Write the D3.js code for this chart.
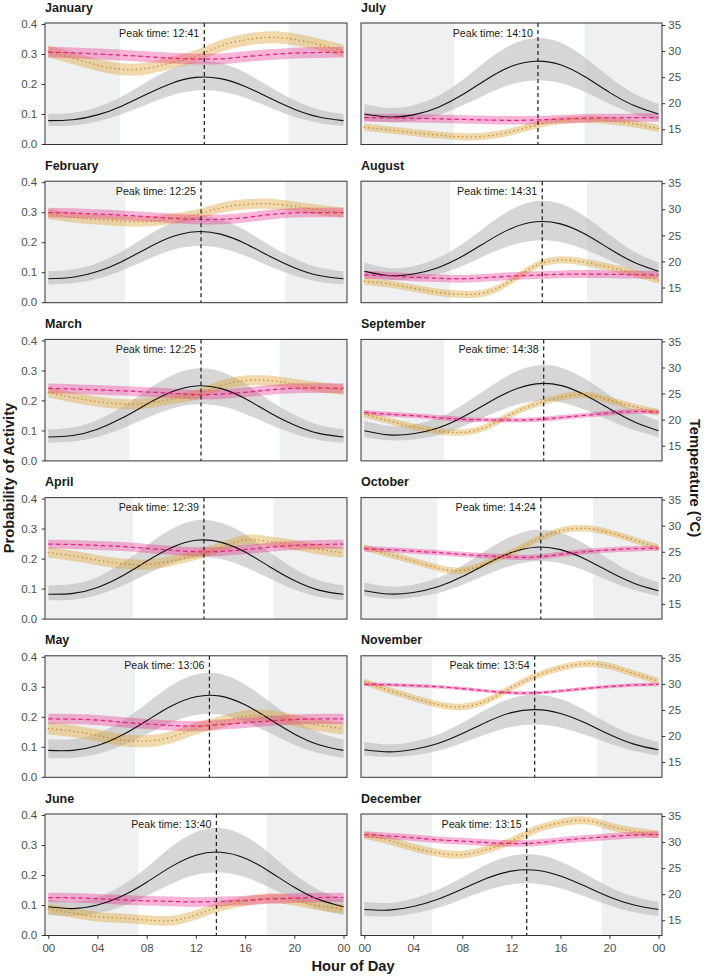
<!DOCTYPE html>
<html>
<head>
<meta charset="utf-8">
<script src="https://cdn.jsdelivr.net/npm/d3@7"></script>
<style>
  body { margin: 0; background: #fff; }
  svg { display: block; }
  text { font-family: "Liberation Sans", Arial, sans-serif; }
</style>
</head>
<body>
<div id="chart"></div>
<script>
// --- data ---
const months = ["January", "February", "March", "April", "May", "June",
  "July", "August", "September", "October", "November", "December"];
const peakLabels = ["12:41", "12:25", "12:25", "12:39", "13:06", "13:40",
  "14:10", "14:31", "14:38", "14:24", "13:54", "13:15"];
// night shading (hour of sunrise / sunset)
const sunrise = [5.83, 6.25, 6.57, 6.87, 7.05, 7.32, 7.32, 7.0, 6.5, 5.97, 5.53, 5.53];
const sunset = [19.53, 19.26, 18.8, 18.3, 17.9, 17.77, 17.98, 18.17, 18.45, 18.66, 18.98, 19.37];

const hours = [0, 2, 4, 6, 8, 10, 12, 14, 16, 18, 20, 22, 24];
const hourTicks = [0, 4, 8, 12, 16, 20, 24];
const hourTickLabels = ["00", "04", "08", "12", "16", "20", "00"];
const probTicks = [0, 0.1, 0.2, 0.3, 0.4];
const tempTicks = [15, 20, 25, 30, 35];

const activityMean = [
  [0.078, 0.081, 0.097, 0.127, 0.166, 0.202, 0.222, 0.218, 0.192, 0.153, 0.116, 0.090, 0.078],
  [0.078, 0.083, 0.102, 0.136, 0.179, 0.217, 0.235, 0.227, 0.196, 0.153, 0.115, 0.089, 0.078],
  [0.078, 0.083, 0.104, 0.141, 0.187, 0.228, 0.248, 0.240, 0.206, 0.159, 0.118, 0.090, 0.078],
  [0.081, 0.084, 0.104, 0.142, 0.191, 0.236, 0.261, 0.255, 0.222, 0.173, 0.127, 0.095, 0.081],
  [0.088, 0.088, 0.104, 0.139, 0.187, 0.236, 0.267, 0.269, 0.240, 0.192, 0.143, 0.107, 0.088],
  [0.094, 0.088, 0.100, 0.130, 0.176, 0.228, 0.266, 0.276, 0.256, 0.211, 0.159, 0.118, 0.094],
  [0.100, 0.090, 0.097, 0.122, 0.164, 0.216, 0.259, 0.276, 0.264, 0.224, 0.172, 0.128, 0.100],
  [0.103, 0.089, 0.094, 0.115, 0.153, 0.202, 0.246, 0.268, 0.261, 0.227, 0.178, 0.133, 0.103],
  [0.099, 0.085, 0.089, 0.108, 0.144, 0.190, 0.232, 0.255, 0.250, 0.218, 0.172, 0.129, 0.099],
  [0.093, 0.082, 0.087, 0.106, 0.140, 0.183, 0.220, 0.238, 0.230, 0.199, 0.156, 0.118, 0.093],
  [0.090, 0.083, 0.091, 0.111, 0.144, 0.183, 0.214, 0.224, 0.211, 0.180, 0.141, 0.109, 0.090],
  [0.085, 0.083, 0.095, 0.119, 0.153, 0.189, 0.213, 0.216, 0.197, 0.163, 0.127, 0.100, 0.085]
];
const activityLower = [
  [0.060, 0.062, 0.075, 0.100, 0.132, 0.162, 0.178, 0.175, 0.154, 0.122, 0.091, 0.070, 0.060],
  [0.059, 0.063, 0.078, 0.106, 0.141, 0.173, 0.187, 0.181, 0.155, 0.120, 0.089, 0.068, 0.059],
  [0.059, 0.063, 0.078, 0.106, 0.141, 0.172, 0.187, 0.181, 0.155, 0.120, 0.089, 0.068, 0.059],
  [0.061, 0.063, 0.079, 0.109, 0.148, 0.184, 0.203, 0.199, 0.172, 0.134, 0.097, 0.072, 0.061],
  [0.063, 0.063, 0.076, 0.104, 0.142, 0.181, 0.206, 0.208, 0.184, 0.146, 0.107, 0.079, 0.063],
  [0.067, 0.063, 0.072, 0.095, 0.131, 0.171, 0.201, 0.208, 0.193, 0.158, 0.118, 0.086, 0.067],
  [0.079, 0.072, 0.077, 0.096, 0.128, 0.167, 0.199, 0.212, 0.203, 0.173, 0.134, 0.100, 0.079],
  [0.084, 0.074, 0.077, 0.093, 0.121, 0.158, 0.190, 0.206, 0.201, 0.176, 0.140, 0.106, 0.084],
  [0.077, 0.067, 0.070, 0.084, 0.112, 0.148, 0.180, 0.198, 0.194, 0.169, 0.134, 0.101, 0.077],
  [0.075, 0.066, 0.070, 0.085, 0.112, 0.147, 0.177, 0.191, 0.185, 0.160, 0.125, 0.095, 0.075],
  [0.071, 0.066, 0.072, 0.087, 0.113, 0.143, 0.166, 0.174, 0.164, 0.140, 0.111, 0.086, 0.071],
  [0.063, 0.062, 0.072, 0.091, 0.119, 0.149, 0.169, 0.171, 0.156, 0.128, 0.098, 0.076, 0.063]
];
const activityUpper = [
  [0.100, 0.104, 0.123, 0.159, 0.207, 0.250, 0.275, 0.270, 0.238, 0.191, 0.146, 0.115, 0.100],
  [0.103, 0.109, 0.131, 0.170, 0.220, 0.264, 0.285, 0.276, 0.240, 0.190, 0.146, 0.116, 0.103],
  [0.104, 0.110, 0.135, 0.179, 0.234, 0.282, 0.306, 0.296, 0.256, 0.200, 0.152, 0.118, 0.104],
  [0.111, 0.115, 0.139, 0.185, 0.244, 0.298, 0.328, 0.320, 0.281, 0.222, 0.167, 0.128, 0.111],
  [0.125, 0.125, 0.144, 0.186, 0.244, 0.304, 0.341, 0.343, 0.308, 0.250, 0.191, 0.148, 0.125],
  [0.118, 0.110, 0.126, 0.165, 0.225, 0.294, 0.343, 0.357, 0.330, 0.272, 0.203, 0.150, 0.118],
  [0.133, 0.120, 0.129, 0.160, 0.213, 0.278, 0.331, 0.353, 0.338, 0.288, 0.223, 0.168, 0.133],
  [0.132, 0.114, 0.120, 0.147, 0.194, 0.255, 0.309, 0.337, 0.328, 0.286, 0.225, 0.169, 0.132],
  [0.132, 0.115, 0.120, 0.142, 0.185, 0.239, 0.289, 0.316, 0.310, 0.272, 0.218, 0.167, 0.132],
  [0.120, 0.107, 0.113, 0.136, 0.177, 0.229, 0.274, 0.296, 0.286, 0.249, 0.197, 0.151, 0.120],
  [0.116, 0.108, 0.117, 0.141, 0.180, 0.226, 0.262, 0.274, 0.259, 0.222, 0.176, 0.139, 0.116],
  [0.110, 0.107, 0.122, 0.151, 0.192, 0.235, 0.264, 0.268, 0.245, 0.204, 0.160, 0.128, 0.110]
];

// pink dashed series
const pinkMid = [
  [0.306, 0.304, 0.300, 0.296, 0.291, 0.286, 0.283, 0.284, 0.291, 0.298, 0.303, 0.305, 0.306],
  [0.299, 0.297, 0.294, 0.290, 0.285, 0.280, 0.276, 0.276, 0.282, 0.292, 0.298, 0.299, 0.299],
  [0.240, 0.238, 0.235, 0.232, 0.228, 0.224, 0.219, 0.221, 0.227, 0.235, 0.240, 0.241, 0.240],
  [0.248, 0.247, 0.244, 0.240, 0.234, 0.228, 0.223, 0.224, 0.230, 0.238, 0.244, 0.247, 0.248],
  [0.193, 0.192, 0.189, 0.182, 0.176, 0.171, 0.169, 0.174, 0.180, 0.186, 0.191, 0.193, 0.193],
  [0.125, 0.124, 0.121, 0.117, 0.114, 0.112, 0.110, 0.112, 0.115, 0.120, 0.123, 0.125, 0.125],
  [0.088, 0.087, 0.086, 0.084, 0.082, 0.080, 0.079, 0.080, 0.083, 0.086, 0.087, 0.088, 0.088],
  [0.091, 0.088, 0.083, 0.080, 0.078, 0.082, 0.087, 0.090, 0.093, 0.094, 0.093, 0.092, 0.091],
  [0.160, 0.154, 0.149, 0.143, 0.137, 0.135, 0.134, 0.136, 0.143, 0.150, 0.158, 0.163, 0.161],
  [0.233, 0.230, 0.225, 0.220, 0.214, 0.209, 0.205, 0.205, 0.214, 0.223, 0.229, 0.233, 0.234],
  [0.308, 0.307, 0.304, 0.300, 0.294, 0.286, 0.280, 0.280, 0.286, 0.294, 0.301, 0.306, 0.308],
  [0.335, 0.330, 0.324, 0.317, 0.313, 0.308, 0.305, 0.307, 0.315, 0.322, 0.328, 0.333, 0.335]
];
const pinkSpread = [0.018, 0.016, 0.016, 0.015, 0.017, 0.016, 0.014, 0.013, 0.008, 0.009, 0.006, 0.011];

// gold dotted series
const goldMid = [
  [0.308, 0.286, 0.263, 0.249, 0.252, 0.271, 0.293, 0.327, 0.347, 0.356, 0.349, 0.332, 0.311],
  [0.294, 0.283, 0.276, 0.270, 0.269, 0.278, 0.292, 0.314, 0.326, 0.328, 0.319, 0.308, 0.299],
  [0.227, 0.210, 0.196, 0.188, 0.190, 0.204, 0.219, 0.249, 0.266, 0.266, 0.255, 0.244, 0.235],
  [0.220, 0.209, 0.195, 0.183, 0.180, 0.192, 0.212, 0.237, 0.262, 0.257, 0.246, 0.231, 0.220],
  [0.161, 0.152, 0.138, 0.122, 0.119, 0.132, 0.161, 0.182, 0.202, 0.202, 0.188, 0.172, 0.161],
  [0.087, 0.073, 0.061, 0.056, 0.050, 0.048, 0.067, 0.095, 0.112, 0.123, 0.114, 0.098, 0.087],
  [0.056, 0.047, 0.038, 0.030, 0.024, 0.027, 0.041, 0.063, 0.078, 0.082, 0.078, 0.067, 0.052],
  [0.070, 0.061, 0.047, 0.033, 0.026, 0.033, 0.072, 0.122, 0.141, 0.133, 0.117, 0.097, 0.074],
  [0.154, 0.132, 0.112, 0.098, 0.093, 0.112, 0.154, 0.188, 0.210, 0.219, 0.201, 0.179, 0.160],
  [0.237, 0.214, 0.192, 0.169, 0.160, 0.186, 0.220, 0.262, 0.293, 0.301, 0.287, 0.262, 0.237],
  [0.317, 0.288, 0.263, 0.241, 0.233, 0.254, 0.297, 0.336, 0.363, 0.377, 0.369, 0.344, 0.319],
  [0.333, 0.315, 0.291, 0.274, 0.268, 0.285, 0.313, 0.352, 0.374, 0.382, 0.363, 0.346, 0.335]
];
const goldSpread = [0.020, 0.017, 0.017, 0.017, 0.020, 0.016, 0.012, 0.012, 0.011, 0.011, 0.011, 0.013];

// --- layout ---
const width = 704, height = 977;
const colX = [[45, 347], [361, 662]];
const panelH = 121.5;
const rowTop = r => 23 + r * 158.2;
const nightFill = "#eff0f2";
const tickColor = "#4d4d4d";

let svg = d3.select("#chart").append("svg")
    .attr("width", width)
    .attr("height", height);

function styleAxis(sel) {
	sel.select(".domain").remove();
	sel.selectAll(".tick line").attr("stroke", "#333").attr("stroke-width", 1);
	sel.selectAll(".tick text").attr("fill", tickColor).style("font-size", "11.5px")
		.style("font-family", '"Liberation Sans", Arial, sans-serif');
}

months.forEach((name, i) => {
	let col = Math.floor(i / 6), row = i % 6;
	let [x0, x1] = colX[col];
	let top = rowTop(row), bottom = top + panelH;

	let x = d3.scaleLinear().domain([0, 24]).range([x0 + 3.3, x1 - 3.5]);
	let y = d3.scaleLinear().domain([0, 0.4]).range([top + 121, top + 1]);
	let idx = d3.range(hours.length);

	let clipId = "clip" + i;
	svg.append("clipPath").attr("id", clipId)
		.append("rect").attr("x", x0).attr("y", top)
		.attr("width", x1 - x0).attr("height", panelH);

	let g = svg.append("g");
	let plot = g.append("g").attr("clip-path", `url(#${clipId})`);

	// night shading
	plot.append("rect").attr("x", x0).attr("y", top)
		.attr("width", x(sunrise[i]) - x0).attr("height", panelH).attr("fill", nightFill);
	plot.append("rect").attr("x", x(sunset[i])).attr("y", top)
		.attr("width", x1 - x(sunset[i])).attr("height", panelH).attr("fill", nightFill);

	let band = (lo, hi) => d3.area()
		.x(k => x(hours[k])).y0(k => y(lo(k))).y1(k => y(hi(k)))
		.curve(d3.curveNatural);
	let line = (v) => d3.line()
		.x(k => x(hours[k])).y(k => y(v(k)))
		.curve(d3.curveNatural);

	// ribbons
	plot.append("path").datum(idx)
		.attr("d", band(k => activityLower[i][k], k => activityUpper[i][k]))
		.attr("fill", "#bdbdbd").attr("fill-opacity", 0.62);
	plot.append("path").datum(idx)
		.attr("d", band(k => goldMid[i][k] - goldSpread[i], k => goldMid[i][k] + goldSpread[i]))
		.attr("fill", "#dba53a").attr("fill-opacity", 0.42);
	plot.append("path").datum(idx)
		.attr("d", band(k => pinkMid[i][k] - pinkSpread[i], k => pinkMid[i][k] + pinkSpread[i]))
		.attr("fill", "#e7298a").attr("fill-opacity", 0.35);

	// lines
	plot.append("path").datum(idx)
		.attr("d", line(k => activityMean[i][k]))
		.attr("fill", "none").attr("stroke", "#111").attr("stroke-width", 1.1);
	plot.append("path").datum(idx)
		.attr("d", line(k => goldMid[i][k]))
		.attr("fill", "none").attr("stroke", "#c4851a").attr("stroke-width", 1.4)
		.attr("stroke-linecap", "round")
		.attr("stroke-dasharray", "0.1,4.2");
	plot.append("path").datum(idx)
		.attr("d", line(k => pinkMid[i][k]))
		.attr("fill", "none").attr("stroke", "#e5207f").attr("stroke-width", 1.25)
		.attr("stroke-dasharray", "4.5,3");

	// peak time marker
	let [hh, mm] = peakLabels[i].split(":").map(Number);
	let peak = hh + mm / 60;
	g.append("line")
		.attr("x1", x(peak)).attr("x2", x(peak))
		.attr("y1", top).attr("y2", bottom)
		.attr("stroke", "#222").attr("stroke-width", 1.25)
		.attr("stroke-dasharray", "4,3");
	g.append("text")
		.attr("x", x(peak) - 5).attr("y", top + 13.5)
		.attr("text-anchor", "end")
		.style("font-size", "10.7px").attr("fill", "#1a1a1a")
		.text("Peak time: " + peakLabels[i]);

	// panel border
	g.append("rect").attr("x", x0).attr("y", top)
		.attr("width", x1 - x0).attr("height", panelH)
		.attr("fill", "none").attr("stroke", "#333").attr("stroke-width", 1);

	// title
	g.append("text")
		.attr("x", x0).attr("y", top - 11.5)
		.style("font-size", "12.5px").style("font-weight", "bold").attr("fill", "#1a1a1a")
		.text(name);

	// axes
	if (col === 0) {
		g.append("g").attr("transform", `translate(${x0},0)`)
			.call(d3.axisLeft(y).tickValues(probTicks).tickSize(3.3).tickPadding(4.5)
				.tickFormat(d3.format(".1f")))
			.call(styleAxis);
	} else {
		let t = d3.scaleLinear().domain([15, 35]).range([top + 106.3, top + 2]);
		g.append("g").attr("transform", `translate(${x1},0)`)
			.call(d3.axisRight(t).tickValues(tempTicks).tickSize(3.3).tickPadding(3))
			.call(styleAxis);
	}
	if (row === 5) {
		g.append("g").attr("transform", `translate(0,${bottom})`)
			.call(d3.axisBottom(x).tickValues(hourTicks).tickSize(3.3).tickPadding(5.5)
				.tickFormat((d, k) => hourTickLabels[k]))
			.call(styleAxis);
	}
});

// axis titles
svg.append("text")
	.attr("x", 353).attr("y", 970.5)
	.attr("text-anchor", "middle")
	.style("font-size", "14.7px").style("font-weight", "bold").attr("fill", "#1a1a1a")
	.text("Hour of Day");
svg.append("text")
	.attr("transform", "translate(14,478) rotate(-90)")
	.attr("text-anchor", "middle")
	.style("font-size", "14.7px").style("font-weight", "bold").attr("fill", "#1a1a1a")
	.text("Probability of Activity");
svg.append("text")
	.attr("transform", "translate(690,478) rotate(90)")
	.attr("text-anchor", "middle")
	.style("font-size", "14.7px").style("font-weight", "bold").attr("fill", "#1a1a1a")
	.text("Temperature (°C)");
</script>
</body>
</html>
